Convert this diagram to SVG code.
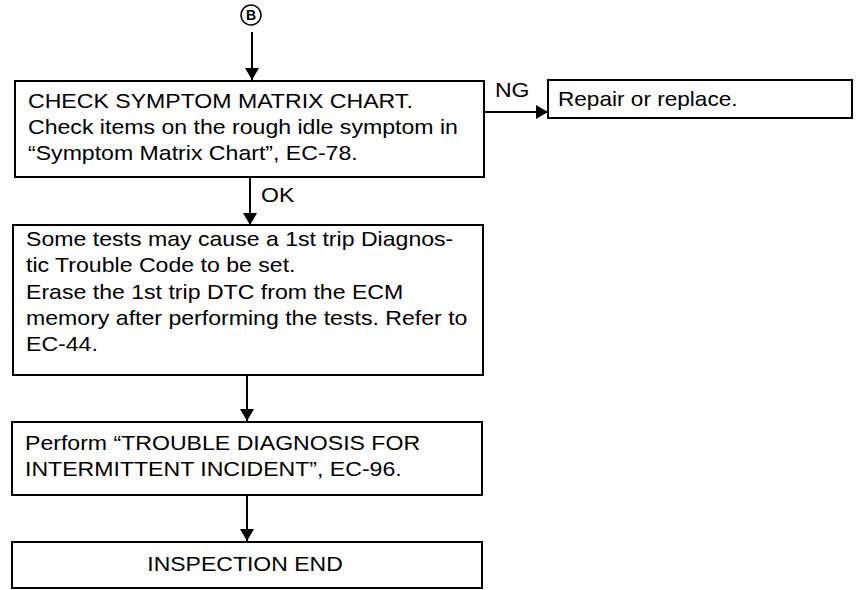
<svg xmlns="http://www.w3.org/2000/svg" width="863" height="590" viewBox="0 0 863 590">
<style>
.box{fill:#fff;stroke:#000;stroke-width:2}
.t{font-family:"Liberation Sans",Arial,Helvetica,sans-serif;font-size:20px;fill:#000}
.c{stroke:#000;stroke-width:2;fill:none}
</style>
<defs>
<marker id="ah" markerWidth="12" markerHeight="14" refX="12" refY="7" orient="auto" markerUnits="userSpaceOnUse">
<path d="M0,0 L12,7 L0,14 Z" fill="#000"/>
</marker>
</defs>
<rect width="863" height="590" fill="#fff"/>
<g id="start">
<circle cx="251" cy="15" r="10" fill="none" stroke="#000" stroke-width="1.5"/>
<text x="251" y="20" text-anchor="middle" font-family="Liberation Sans,Arial,sans-serif" font-size="14" font-weight="bold">B</text>
</g>
<g id="connectors">
<line class="c" x1="252" y1="32" x2="252" y2="80" marker-end="url(#ah)"/>
<line class="c" x1="484" y1="112" x2="548" y2="112" marker-end="url(#ah)"/>
<line class="c" x1="250" y1="177" x2="250" y2="225" marker-end="url(#ah)"/>
<line class="c" x1="247" y1="375" x2="247" y2="421" marker-end="url(#ah)"/>
<line class="c" x1="247" y1="495" x2="247" y2="541" marker-end="url(#ah)"/>
<text class="t" transform="translate(495 97) scale(1.15 1)">NG</text>
<text class="t" transform="translate(261 202) scale(1.15 1)">OK</text>
</g>
<g id="check">
<rect class="box" x="15" y="81" width="469" height="96"/>
<text class="t" transform="translate(28 108) scale(1.155 1)">CHECK SYMPTOM MATRIX CHART.</text>
<text class="t" transform="translate(28 134) scale(1.155 1)">Check items on the rough idle symptom in</text>
<text class="t" transform="translate(28 160) scale(1.155 1)">“Symptom Matrix Chart”, EC-78.</text>
</g>
<g id="repair">
<rect class="box" x="548" y="80" width="304" height="38"/>
<text class="t" transform="translate(558 106) scale(1.13 1)">Repair or replace.</text>
</g>
<g id="erase">
<rect class="box" x="13" y="225" width="470" height="150"/>
<text class="t" transform="translate(26 246) scale(1.155 1)">Some tests may cause a 1st trip Diagnos-</text>
<text class="t" transform="translate(26 272) scale(1.155 1)">tic Trouble Code to be set.</text>
<text class="t" transform="translate(26 299) scale(1.155 1)">Erase the 1st trip DTC from the ECM</text>
<text class="t" transform="translate(26 325) scale(1.155 1)">memory after performing the tests. Refer to</text>
<text class="t" transform="translate(26 351) scale(1.155 1)">EC-44.</text>
</g>
<g id="perform">
<rect class="box" x="12" y="422" width="470" height="73"/>
<text class="t" transform="translate(25 450) scale(1.155 1)">Perform “TROUBLE DIAGNOSIS FOR</text>
<text class="t" transform="translate(25 476) scale(1.155 1)">INTERMITTENT INCIDENT”, EC-96.</text>
</g>
<g id="end">
<rect class="box" x="12" y="542" width="470" height="46"/>
<text class="t" text-anchor="middle" transform="translate(245 571) scale(1.15 1)">INSPECTION END</text>
</g>
</svg>
